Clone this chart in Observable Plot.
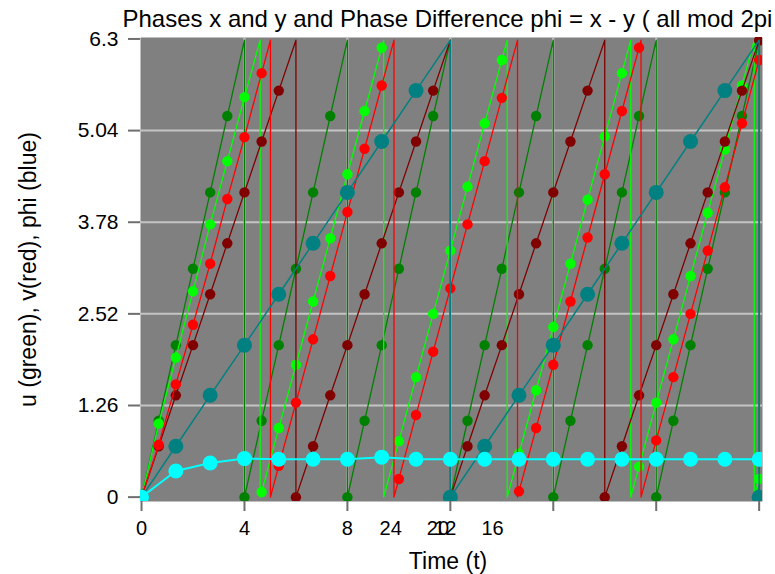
<!DOCTYPE html>
<html>
<head>
<meta charset="utf-8">
<script src="https://cdn.jsdelivr.net/npm/d3@7"></script>
<script src="https://cdn.jsdelivr.net/npm/@observablehq/plot@0.6"></script>
<style>
  body { margin: 0; background: #ffffff; }
  #chart svg { display: block; }
</style>
</head>
<body>
<div id="chart"></div>
<script>
// ---- data ----
const titleText = "Phases x and y and Phase Difference phi = x - y ( all mod 2pi )";
const xLabel = "Time (t)";
const yLabel = "u (green), v(red), phi (blue)";

// sample times of the small dots (u, v) and of the big dots (phi)
const tDots = [0, 0.667, 1.333, 2, 2.667, 3.333, 4, 4.667, 5.333, 6, 6.667, 7.333, 8, 8.667, 9.333, 10,
  10.667, 11.333, 12, 12.667, 13.333, 14, 14.667, 15.333, 16, 16.667, 17.333, 18, 18.667, 19.333, 20,
  20.667, 21.333, 22, 22.667, 23.333, 24];
const tPhi = [0, 1.333, 2.667, 4, 5.333, 6.667, 8, 9.333, 10.667, 12, 13.333, 14.667, 16, 17.333,
  18.667, 20, 21.333, 22.667, 24];

// dark green u (uncoupled run)
const uDark = [0, 1.05, 2.09, 3.14, 4.19, 5.24, 0, 1.05, 2.09, 3.14, 4.19, 5.24, 0, 1.05, 2.09, 3.14,
  4.19, 5.24, 0, 1.05, 2.09, 3.14, 4.19, 5.24, 0, 1.05, 2.09, 3.14, 4.19, 5.24, 0, 1.05, 2.09, 3.14,
  4.19, 5.24, 0];
// light green u (coupled run)
const uBright = [0, 1.01, 1.92, 2.83, 3.75, 4.62, 5.50, 0.07, 0.95, 1.82, 2.69, 3.56, 4.44, 5.31, 6.18,
  0.77, 1.65, 2.52, 3.39, 4.27, 5.14, 6.01, 0.60, 1.47, 2.34, 3.21, 4.09, 4.96, 5.83, 0.42, 1.30, 2.17,
  3.04, 3.91, 4.78, 5.66, 0.25];
// dark red v (uncoupled run)
const vDark = [0, 0.70, 1.40, 2.09, 2.79, 3.49, 4.19, 4.89, 5.59, 0, 0.70, 1.40, 2.09, 2.79, 3.49, 4.19,
  4.89, 5.59, 0, 0.70, 1.40, 2.09, 2.79, 3.49, 4.19, 4.89, 5.59, 0, 0.70, 1.40, 2.09, 2.79, 3.49, 4.19,
  4.89, 5.59, 6.28];
// red v (coupled run)
const vBright = [0, 0.72, 1.55, 2.37, 3.21, 4.10, 4.95, 5.83, 0.43, 1.30, 2.17, 3.04, 3.92, 4.79, 5.66,
  0.25, 1.13, 2.00, 2.87, 3.75, 4.62, 5.49, 0.08, 0.95, 1.82, 2.69, 3.57, 4.44, 5.31, 6.18, 0.78, 1.65,
  2.52, 3.39, 4.26, 5.14, 6.01];
// teal phi (uncoupled run)
const phiDark = [0, 0.70, 1.40, 2.09, 2.79, 3.49, 4.19, 4.89, 5.59, 0, 0.70, 1.40, 2.09, 2.79, 3.49,
  4.19, 4.89, 5.59, 0];
// cyan phi (coupled run)
const phiBright = [0, 0.36, 0.47, 0.53, 0.52, 0.52, 0.52, 0.55, 0.52, 0.52, 0.52, 0.52, 0.52, 0.52,
  0.52, 0.52, 0.52, 0.52, 0.52];

// times at which each phase wraps from 2pi back to 0 (vertical drops of the lines)
const wrapTop = 6.283;
const wrapUDark = [4, 8, 12, 16, 20, 24];
const wrapUBright = [4.61, 9.41, 14.21, 19.01, 23.81];
const wrapVDark = [6, 12, 18];
const wrapVBright = [5.01, 9.81, 14.61, 19.41];
const wrapPhiDark = [12, 24];
const wrapPhiBright = [];

// axes
const yTicks = [0, 1.26, 2.52, 3.78, 5.04, 6.3];
const xTicks = [0, 4, 8, 12, 16, 20, 24];
const xTickLabels = ["0", "4", "8", "24", "20", "12", "16"];
const xTickLabelAt = [0, 4, 8, 9.68, 11.52, 11.8, 13.64];

// ---- build tables ----
function dotTable(ts, vs) { return ts.map((t, i) => ({t, v: vs[i]})); }
function lineTable(ts, vs, wraps) {
  const out = [];
  let w = 0;
  for (let i = 0; i < ts.length; i++) {
    while (w < wraps.length && wraps[w] <= ts[i] + 1e-9) {
      out.push({t: wraps[w], v: wrapTop});
      out.push({t: wraps[w], v: 0});
      w++;
    }
    out.push({t: ts[i], v: vs[i]});
  }
  return out;
}

const series = [
  {ts: tDots, vs: uDark, wraps: wrapUDark, color: "#008000", r: 5.2, sw: 1.3},
  {ts: tDots, vs: uBright, wraps: wrapUBright, color: "#00ff00", r: 5.2, sw: 1.3},
  {ts: tDots, vs: vDark, wraps: wrapVDark, color: "#800000", r: 5.2, sw: 1.3},
  {ts: tDots, vs: vBright, wraps: wrapVBright, color: "#ff0000", r: 5.2, sw: 1.3},
  {ts: tPhi, vs: phiDark, wraps: wrapPhiDark, color: "#008080", r: 7.5, sw: 1.5},
  {ts: tPhi, vs: phiBright, wraps: wrapPhiBright, color: "#00ffff", r: 7.5, sw: 2}
];

const dataMarks = [];
for (const s of series) {
  dataMarks.push(Plot.line(lineTable(s.ts, s.vs, s.wraps), {x: "t", y: "v", stroke: s.color, strokeWidth: s.sw, clip: true}));
  dataMarks.push(Plot.dot(dotTable(s.ts, s.vs), {x: "t", y: "v", r: s.r, fill: s.color, stroke: null, clip: true}));
}

const chart = Plot.plot({
  width: 775,
  height: 574,
  marginLeft: 140,
  marginRight: 13,
  marginTop: 37,
  marginBottom: 73,
  style: {fontFamily: "'Liberation Sans', Arial, sans-serif", fontSize: "21px", background: "#ffffff", color: "#000"},
  x: {domain: [-0.04, 24.13]},
  y: {domain: [-0.06, 6.32]},
  marks: [
    Plot.frame({fill: "#808080", stroke: null}),
    Plot.gridY(yTicks.slice(1, -1), {stroke: "#c4c4c4", strokeOpacity: 1, strokeWidth: 2}),
    Plot.gridX(xTicks.slice(1, -1), {stroke: "#c4c4c4", strokeOpacity: 1, strokeWidth: 2}),
    ...dataMarks,
    Plot.axisY(yTicks, {tickSize: 12, tickPadding: 10, tickFormat: d => String(d), label: null, stroke: "#6e6e6e", strokeWidth: 2}),
    Plot.axisX(xTicks, {tickSize: 10, tickFormat: () => "", label: null, stroke: "#6e6e6e", strokeWidth: 2}),
    Plot.text(xTickLabelAt, {x: d => d, text: (d, i) => xTickLabels[i], frameAnchor: "bottom", dy: 33, fontSize: 20, fill: "#000"}),
    Plot.text([xLabel], {frameAnchor: "bottom", lineAnchor: "bottom", dy: 67, dx: -3.5, fontSize: 23, fill: "#000"}),
    Plot.text([yLabel], {frameAnchor: "left", textAnchor: "middle", rotate: -90, dx: -111.5, fontSize: 23, fill: "#000"}),
    Plot.text([titleText], {frameAnchor: "top-left", textAnchor: "start", lineAnchor: "bottom", dx: -18, dy: -11, fontSize: 24, fill: "#000"})
  ]
});
document.getElementById("chart").append(chart);
</script>
</body>
</html>
